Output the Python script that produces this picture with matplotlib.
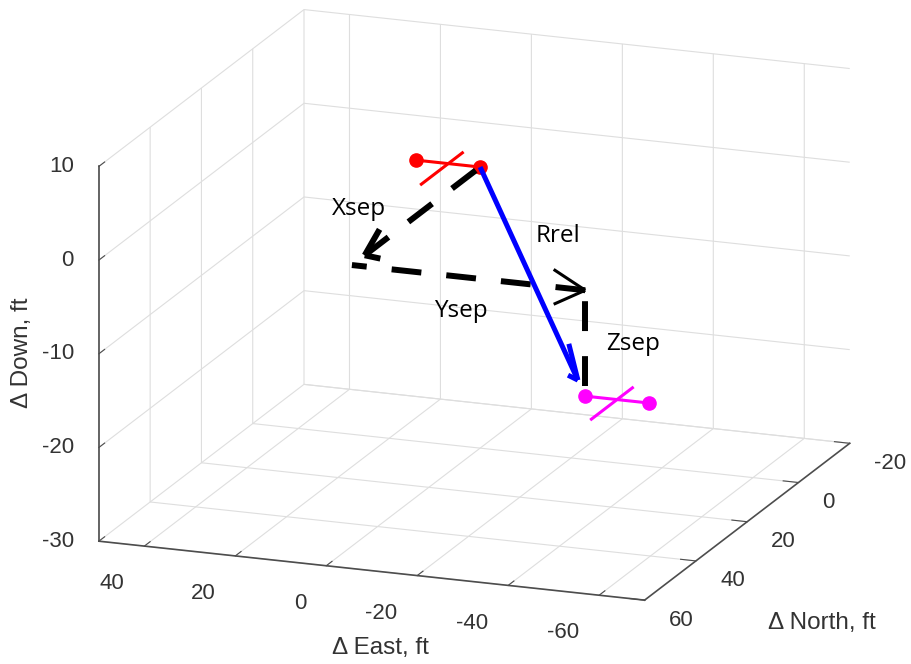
import numpy as np
import matplotlib.pyplot as plt
from mpl_toolkits.mplot3d import proj3d

plt.rcParams['font.family'] = ['Liberation Sans', 'DejaVu Sans']

# separation components, ft  (X = North, Y = East, Z = Down)
xsep = 50.0
ysep = -51.3
zsep = -11.3

# ownship symbol (red): body end points and wing, East / North / Down
own_body_e = [14, 0]
own_body_n = [0, 0]
own_body_d = [0, 0]
own_wing_e = [7, 7]
own_wing_n = [-5.5, 10.5]
own_wing_d = [0, 0]

# intruder symbol (magenta)
intr_body_e = [-51.3, -65.3]
intr_body_n = [50, 50]
intr_body_d = [-11.3, -11.3]
intr_wing_e = [-58.3, -58.3]
intr_wing_n = [44, 60]
intr_wing_d = [-11.3, -11.3]

# annotation text and where it sits
label_text = ['Xsep', 'Rrel', 'Ysep', 'Zsep']
label_e = [18, -28, -18, -56]
label_n = [26, 28, 50, 50]
label_d = [0, 0, -4, -5.5]

east_ticks = [-60, -40, -20, 0, 20, 40]
north_ticks = [-20, 0, 20, 40, 60]
down_ticks = [-30, -20, -10, 0, 10]

fig = plt.figure(figsize=(9.12, 6.64), dpi=100)
ax = fig.add_subplot(projection='3d', proj_type='ortho', computed_zorder=False)
ax.set_position([0.0212, -0.1443, 0.9715, 1.3343])
ax.view_init(elev=16.7, azim=110.6)
ax.set_box_aspect((1.49, 1.49, 1))

ax.set_xlim(-70, 50)
ax.set_ylim(-20, 60)
ax.set_zlim(-30, 10)
ax.set_xticks(east_ticks)
ax.set_yticks(north_ticks)
ax.set_zticks(down_ticks)
ax.zaxis.set_ticks_position('upper')

# MATLAB-ish look: white panes, light grid, dark axis lines
grid_c = (0.87, 0.87, 0.87)
for axis in (ax.xaxis, ax.yaxis, ax.zaxis):
    axis.set_pane_color((1, 1, 1, 0))
    axis.pane.set_edgecolor('none')
    axis._axinfo['grid'].update(color=grid_c, linewidth=0.8)
    axis._axinfo['tick']['inward_factor'] = 0.0
    axis._axinfo['tick']['outward_factor'] = 0.35
    axis.line.set_color((0.3, 0.3, 0.3))
    axis.line.set_linewidth(1.2)
    axis.set_major_formatter(plt.NullFormatter())
ax.tick_params(axis='both', colors=(0.3, 0.3, 0.3))

M = ax.get_proj()


def text_at(e, n, d, s, **kw):
    # project a 3D point and put a plain 2D text there
    x2, y2, _ = proj3d.proj_transform(e, n, d, M)
    ax.text2D(x2, y2, s, transform=ax.transData, **kw)


# tick labels placed MATLAB style (East right-aligned, North left-aligned)
tick_c = (0.2, 0.2, 0.2)
for t in east_ticks:
    text_at(t, 67.8, -32.4, f'{t:g}', ha='right', va='center', fontsize=16, color=tick_c)
for t in north_ticks:
    text_at(-75.3, t, -31.85, f'{t:g}', ha='left', va='center', fontsize=16, color=tick_c)
for t in down_ticks:
    text_at(55.5, 60, t - 0.29, f'{t:g}', ha='right', va='center', fontsize=16, color=tick_c)

lab_c = (0.2, 0.2, 0.2)
fig.text(380 / 912, 1 - 648 / 664, 'Δ East, ft', fontsize=17.5, color=lab_c,
         ha='center', va='center')
fig.text(822 / 912, 1 - 623 / 664, 'Δ North, ft', fontsize=17.5, color=lab_c,
         ha='center', va='center')
fig.text(22 / 912, 1 - 353 / 664, 'Δ Down, ft', fontsize=17.5, color=lab_c,
         ha='center', va='center', rotation=90)

# aircraft symbols
ax.plot(own_body_e, own_body_n, own_body_d, '-o', color='red', lw=2.2, ms=9.5, zorder=2)
ax.plot(own_wing_e, own_wing_n, own_wing_d, '-', color='red', lw=2.2, zorder=2)
ax.plot(intr_body_e, intr_body_n, intr_body_d, '-o', color='magenta', lw=2.2, ms=9.5, zorder=2)
ax.plot(intr_wing_e, intr_wing_n, intr_wing_d, '-', color='magenta', lw=2.2, zorder=2)

# separation components (dashed) and relative range vector
dash = (0, (5, 4.2))
ax.quiver([0], [0], [0], [0], [xsep], [0], length=0.9, arrow_length_ratio=0.14,
          color='black', linewidths=4.3, linestyle=dash, zorder=3)
ax.quiver([0], [xsep], [0], [ysep], [0], [0], length=1.0, arrow_length_ratio=0.14,
          color='black', linewidths=[4.3, 2.2, 2.2],
          linestyles=[dash, 'solid', 'solid'], zorder=3)
ax.quiver([ysep], [xsep], [0], [0], [0], [zsep], length=0.9, arrow_length_ratio=0.0,
          color='black', linewidths=4.3, linestyle=dash, zorder=3)
ax.quiver([0], [0], [0], [ysep], [xsep], [zsep], length=0.93, arrow_length_ratio=0.1,
          color='blue', linewidths=3.6, zorder=4)

for s, e, n, d in zip(label_text, label_e, label_n, label_d):
    text_at(e, n, d, s, ha='left', va='center', fontsize=17.5,
            family=['Open Sans', 'DejaVu Sans'], color='black', zorder=5)

fig.savefig('out.png', dpi=100)
